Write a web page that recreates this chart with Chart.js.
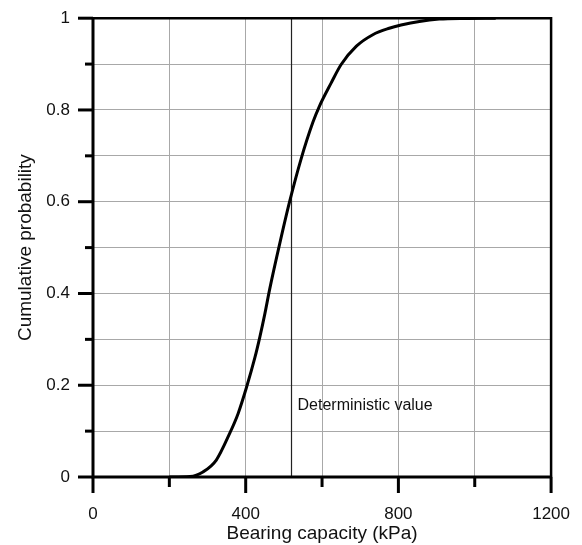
<!DOCTYPE html>
<html>
<head>
<meta charset="utf-8">
<script src="https://cdn.jsdelivr.net/npm/chart.js@4/dist/chart.umd.min.js"></script>
<style>
  html, body { margin: 0; padding: 0; background: #fff; }
  #wrap { width: 582px; height: 545px; position: relative; }
</style>
</head>
<body>
<div id="wrap"><canvas id="c"></canvas></div>
<script>
// ---- data ----
const capacity    = [200, 254, 288, 323, 358, 380, 402, 424, 437, 450, 463, 489, 515, 545, 576, 593, 624, 650, 690, 733, 776, 807, 855, 907, 980, 1055];
const probability = [0, 0.001, 0.011, 0.037, 0.095, 0.138, 0.195, 0.26, 0.305, 0.355, 0.41, 0.508, 0.600, 0.693, 0.773, 0.808, 0.859, 0.899, 0.939, 0.964, 0.978, 0.985, 0.993, 0.998, 0.9995, 1.0];
const deterministicValue = 520;
const deterministicLabel = 'Deterministic value';
const deterministicLabelProb = 0.156;
const xLabeledTicks = [0, 400, 800, 1200];
const yLabeledTicks = [0, 0.2, 0.4, 0.6, 0.8, 1];
const xTitle = 'Bearing capacity (kPa)';
const yTitle = 'Cumulative probability';

const FONT = '"Liberation Sans", Arial, Helvetica, sans-serif';
const curveData = capacity.map((x, i) => ({ x: x, y: probability[i] }));
const detData = [{ x: deterministicValue, y: 0 }, { x: deterministicValue, y: 1 }];

const isXLabeled = v => xLabeledTicks.some(t => Math.abs(t - v) < 1e-6);
const isYLabeled = v => yLabeledTicks.some(t => Math.abs(t - v) < 1e-6);
const GRID = '#a8a8a8';

const framePlugin = {
  id: 'frame',
  afterDraw(chart) {
    const ctx = chart.ctx, a = chart.chartArea;
    const xs = chart.scales.x, ys = chart.scales.y;
    ctx.save();
    ctx.strokeStyle = '#000';
    ctx.lineCap = 'butt';
    // top and right borders
    ctx.lineWidth = 2.5;
    ctx.beginPath();
    ctx.moveTo(a.left, a.top); ctx.lineTo(a.right, a.top); ctx.lineTo(a.right, a.bottom);
    ctx.stroke();
    // left and bottom axes
    ctx.lineWidth = 3;
    ctx.beginPath();
    ctx.moveTo(a.left, a.top - 1); ctx.lineTo(a.left, a.bottom); ctx.lineTo(a.right + 1, a.bottom);
    ctx.stroke();
    // y ticks
    ys.ticks.forEach(t => {
      const p = ys.getPixelForValue(t.value);
      const len = isYLabeled(t.value) ? 15 : 8;
      ctx.lineWidth = 3;
      ctx.beginPath(); ctx.moveTo(a.left, p); ctx.lineTo(a.left - len, p); ctx.stroke();
    });
    // x ticks
    xs.ticks.forEach(t => {
      const p = xs.getPixelForValue(t.value);
      const len = isXLabeled(t.value) ? 16 : 10;
      ctx.lineWidth = 3;
      ctx.beginPath(); ctx.moveTo(p, a.bottom); ctx.lineTo(p, a.bottom + len); ctx.stroke();
    });
    // annotation text
    ctx.fillStyle = '#111';
    ctx.font = '16px ' + FONT;
    ctx.textAlign = 'left';
    ctx.textBaseline = 'middle';
    ctx.fillText(deterministicLabel, xs.getPixelForValue(deterministicValue) + 6, ys.getPixelForValue(deterministicLabelProb));
    ctx.restore();
  }
};

new Chart(document.getElementById('c'), {
  type: 'scatter',
  data: {
    datasets: [
      {
        label: 'Deterministic',
        data: detData,
        showLine: true,
        borderColor: '#222',
        borderWidth: 1.2,
        pointRadius: 0,
        order: 2
      },
      {
        label: 'CDF',
        data: curveData,
        showLine: true,
        borderColor: '#000',
        borderWidth: 3,
        pointRadius: 0,
        cubicInterpolationMode: 'monotone',
        order: 1
      }
    ]
  },
  options: {
    responsive: true,
    maintainAspectRatio: false,
    animation: false,
    layout: { padding: { left: 14, right: 30, top: 15, bottom: 0 } },
    plugins: { legend: { display: false }, tooltip: { enabled: false } },
    scales: {
      x: {
        type: 'linear',
        min: 0, max: 1200,
        border: { display: false },
        ticks: {
          stepSize: 200,
          autoSkip: false,
          maxRotation: 0,
          padding: 12,
          color: '#111',
          font: { family: FONT, size: 17 },
          callback: v => isXLabeled(v) ? String(v) : ''
        },
        grid: {
          drawTicks: true,
          tickLength: 15,
          tickColor: 'rgba(0,0,0,0)',
          color: ctx => (ctx.tick && (ctx.tick.value === 0 || ctx.tick.value === 1200)) ? 'rgba(0,0,0,0)' : GRID,
          lineWidth: 1,
          borderDash: [2, 2]
        },
        title: {
          display: true,
          text: xTitle,
          color: '#111',
          font: { family: FONT, size: 19 },
          padding: { top: 0, bottom: 0 }
        },
        afterFit(scale) { scale.height = 68; }
      },
      y: {
        type: 'linear',
        min: 0, max: 1,
        border: { display: false },
        ticks: {
          stepSize: 0.1,
          autoSkip: false,
          padding: 8,
          color: '#111',
          font: { family: FONT, size: 17 },
          callback: v => isYLabeled(v) ? String(Math.round(v * 10) / 10) : ''
        },
        grid: {
          drawTicks: true,
          tickLength: 15,
          tickColor: 'rgba(0,0,0,0)',
          color: ctx => (ctx.tick && (Math.abs(ctx.tick.value) < 1e-6 || Math.abs(ctx.tick.value - 1) < 1e-6)) ? 'rgba(0,0,0,0)' : GRID,
          lineWidth: 1,
          borderDash: [2, 2]
        },
        title: {
          display: true,
          text: yTitle,
          color: '#111',
          font: { family: FONT, size: 19 },
          padding: { top: 0, bottom: 0 }
        },
        afterFit(scale) { scale.width = 79; }
      }
    }
  },
  plugins: [framePlugin]
});
</script>
</body>
</html>
